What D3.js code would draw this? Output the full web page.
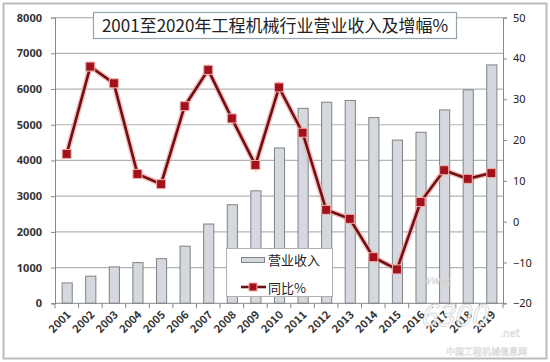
<!DOCTYPE html>
<html>
<head>
<meta charset="utf-8">
<script src="https://cdn.jsdelivr.net/npm/d3@7"></script>
<style>
	body {margin: 0; background: #fff;}
	text {font-family: "Noto Sans CJK SC", "Noto Sans", sans-serif;}
</style>
</head>
<body>
<div id="chart"></div>
<script>
(function(){
	var years = ['2001','2002','2003','2004','2005','2006','2007','2008','2009','2010',
		'2011','2012','2013','2014','2015','2016','2017','2018','2019'];
	var revenue = [570, 760, 1020, 1140, 1250, 1600, 2220, 2760, 3150, 4350,
		5460, 5630, 5680, 5200, 4570, 4790, 5415, 5975, 6675];
	var growth = [16.6, 38.0, 33.9, 11.7, 9.2, 28.3, 37.2, 25.3, 13.9, 32.9,
		21.8, 2.9, 0.7, -8.7, -11.7, 4.8, 12.6, 10.5, 11.9];
	var leftTicks = [0, 1000, 2000, 3000, 4000, 5000, 6000, 7000, 8000];
	var rightTicks = [-20, -10, 0, 10, 20, 30, 40, 50];
	var title = '2001至2020年工程机械行业营业收入及增幅%';
	var legendNames = ['营业收入', '同比%'];

	var width = 550, height = 362;
	var left = 55, right = 503, top = 17.6, bottom = 303.3;

	var svg = d3.select('#chart').append('svg')
		.attr('width', width)
		.attr('height', height);

	svg.append('rect')
		.attr('x', 3.5).attr('y', 3.5)
		.attr('width', 543).attr('height', 355)
		.attr('fill', '#fff')
		.attr('stroke', '#bcbcbc')
		.attr('stroke-width', 2);

	var x = d3.scaleBand().domain(years).range([left, right]).paddingInner(0.57).paddingOuter(0.28);
	var y = d3.scaleLinear().domain([0, 8000]).range([bottom, top]);
	var y2 = d3.scaleLinear().domain([-20, 50]).range([bottom, top]);

	// grid
	svg.append('g').selectAll('line')
		.data(leftTicks.slice(1))
		.enter().append('line')
			.attr('x1', left).attr('x2', right)
			.attr('y1', function(d){return y(d);})
			.attr('y2', function(d){return y(d);})
			.attr('stroke', '#b4b4b4')
			.attr('stroke-width', 1.2);

	// bars
	svg.append('g').selectAll('rect')
		.data(revenue)
		.enter().append('rect')
			.attr('x', function(d,i){return x(years[i]) + 0.5;})
			.attr('y', function(d){return y(d);})
			.attr('width', x.bandwidth())
			.attr('height', function(d){return bottom - y(d);})
			.attr('fill', '#d5d9de')
			.attr('stroke', '#7d838a')
			.attr('stroke-width', 1);

	// axes
	var axisL = svg.append('g')
		.attr('transform', 'translate(' + left + ',0)')
		.call(d3.axisLeft(y).tickValues(leftTicks).tickFormat(d3.format('d')).tickSize(4).tickPadding(9));
	var axisR = svg.append('g')
		.attr('transform', 'translate(' + right + ',0)')
		.call(d3.axisRight(y2).tickValues(rightTicks).tickSize(4).tickPadding(6));
	var xb = d3.scalePoint().domain(d3.range(years.length + 1)).range([left, right]);
	var axisB = svg.append('g')
		.attr('transform', 'translate(0,' + bottom + ')');
	axisB.append('line').attr('x1', left).attr('x2', right).attr('stroke', '#888');
	axisB.selectAll('.tk')
		.data(d3.range(years.length + 1))
		.enter().append('line')
			.attr('x1', function(d){return xb(d);})
			.attr('x2', function(d){return xb(d);})
			.attr('y1', 0).attr('y2', 5)
			.attr('stroke', '#888');
	axisB.selectAll('text')
		.data(years)
		.enter().append('text')
			.attr('transform', function(d){
				return 'translate(' + (x(d) + x.bandwidth()/2 + 5) + ',12) rotate(-45)';
			})
			.attr('text-anchor', 'end')
			.attr('font-size', 11)
			.attr('font-weight', 'bold')
			.attr('fill', '#333')
			.text(function(d){return d;});

	[axisL, axisR].forEach(function(a){
		a.select('.domain').attr('stroke', '#888');
		a.selectAll('.tick line').attr('stroke', '#888');
		a.selectAll('.tick text')
			.attr('font-size', 11)
			.attr('font-weight', 'bold')
			.attr('fill', '#333')
			.style('font-family', '"Noto Sans", sans-serif');
	});
	axisR.selectAll('.tick text').attr('font-weight', 'normal').attr('fill', '#222');

	// line
	var cx = function(d,i){return x(years[i]) + x.bandwidth()/2;};
	var line = d3.line().x(cx).y(function(d){return y2(d);});
	svg.append('path').datum(growth)
		.attr('d', line).attr('fill', 'none')
		.attr('stroke', '#f4a3a3').attr('stroke-width', 5.5).attr('opacity', 0.7);
	svg.append('path').datum(growth)
		.attr('d', line).attr('fill', 'none')
		.attr('stroke', '#6e1013').attr('stroke-width', 2.6);
	svg.append('g').selectAll('rect')
		.data(growth)
		.enter().append('rect')
			.attr('x', function(d,i){return cx(d,i) - 4.5;})
			.attr('y', function(d){return y2(d) - 4.5;})
			.attr('width', 9).attr('height', 9)
			.attr('fill', '#a3121a')
			.attr('stroke', '#f2b0b0')
			.attr('stroke-width', 1);

	// title
	svg.append('rect')
		.attr('x', 93.5).attr('y', 12.5)
		.attr('width', 363).attr('height', 26)
		.attr('fill', '#fff')
		.attr('stroke', '#93a3ad')
		.attr('stroke-width', 1.2);
	svg.append('text')
		.attr('x', 275).attr('y', 31.5)
		.attr('text-anchor', 'middle')
		.attr('font-size', 17)
		.attr('fill', '#222')
		.text(title);

	// legend
	var lg = svg.append('g');
	lg.append('rect')
		.attr('x', 226.5).attr('y', 248.5)
		.attr('width', 106).attr('height', 48)
		.attr('fill', '#fff')
		.attr('stroke', '#b0b0b0');
	lg.append('rect')
		.attr('x', 241.5).attr('y', 257.5)
		.attr('width', 23).attr('height', 5)
		.attr('fill', '#d5d9de').attr('stroke', '#7d838a');
	lg.append('line')
		.attr('x1', 241).attr('x2', 266).attr('y1', 287).attr('y2', 287)
		.attr('stroke', '#6e1013').attr('stroke-width', 2.6);
	lg.append('rect')
		.attr('x', 249).attr('y', 283).attr('width', 8).attr('height', 8)
		.attr('fill', '#a3121a').attr('stroke', '#f2b0b0');
	lg.selectAll('text')
		.data(legendNames)
		.enter().append('text')
			.attr('x', 268)
			.attr('y', function(d,i){return 265 + i*28;})
			.attr('font-size', 13)
			.attr('fill', '#222')
			.text(function(d){return d;});

	// watermark (faint, as in the source image)
	var wm = svg.append('g').attr('opacity', 0.8);
	wm.append('text').attr('x', 422).attr('y', 284).attr('font-size', 11)
		.attr('fill', '#fff').attr('stroke', '#c8c8c8').attr('stroke-width', 0.5)
		.attr('font-style', 'italic').text('www.');
	wm.append('text').attr('x', 420).attr('y', 326).attr('font-size', 30)
		.attr('fill', '#fff').attr('stroke', '#c4c4c4').attr('stroke-width', 0.7)
		.attr('font-style', 'italic').attr('font-family', 'DejaVu Serif, serif').text('6300');
	wm.append('text').attr('x', 500).attr('y', 337).attr('font-size', 11)
		.attr('fill', '#fff').attr('stroke', '#c8c8c8').attr('stroke-width', 0.5)
		.text('.net');
	wm.append('text').attr('x', 446).attr('y', 355).attr('font-size', 9)
		.attr('fill', '#fff').attr('stroke', '#c8c8c8').attr('stroke-width', 0.4)
		.text('中国工程机械信息网');
})();
</script>
</body>
</html>
